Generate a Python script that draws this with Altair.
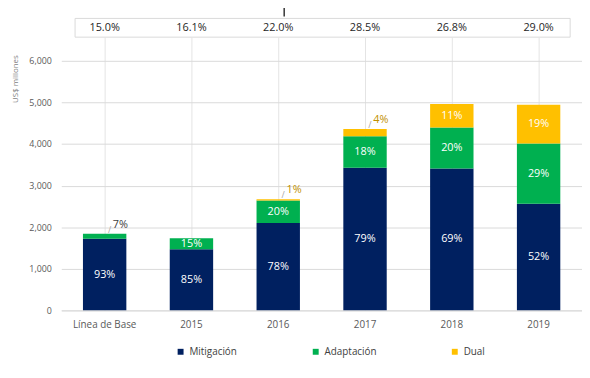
import altair as alt
import pandas as pd

cats = ["Línea de Base", "2015", "2016", "2017", "2018", "2019"]
share = ["15.0%", "16.1%", "22.0%", "28.5%", "26.8%", "29.0%"]
series = ["Mitigación", "Adaptación", "Dual"]
mit = [1720, 1470, 2100, 3430, 3410, 2565]
ada = [120, 265, 545, 760, 990, 1450]
dual = [0, 0, 27, 170, 560, 930]
mit_lbl = ["93%", "85%", "78%", "79%", "69%", "52%"]
ada_lbl = ["7%", "15%", "20%", "18%", "20%", "29%"]
dual_lbl = ["", "", "1%", "4%", "11%", "19%"]
colors = ["#002060", "#00b050", "#ffc000"]
ext_colors = ["#404040", "#404040", "#bf9000"]

rows = []
for i, c in enumerate(cats):
    base = 0
    for j, (vals, lbls) in enumerate(zip([mit, ada, dual], [mit_lbl, ada_lbl, dual_lbl])):
        v = vals[i]
        rows.append(dict(cat=c, serie=series[j], order=j, value=v, lo=base, hi=base + v,
                         mid=base + v / 2, label=lbls[i], inside=v > 250, ext_color=ext_colors[j]))
        base += v
df = pd.DataFrame(rows)
df_in = df[df["inside"] & (df["label"] != "")]
df_ext = df[(~df["inside"]) & (df["label"] != "")]
df_top = pd.DataFrame({"cat": cats, "share": share})

FONT = "Open Sans"
xenc = alt.X("cat:N", sort=cats, title=None,
             scale=alt.Scale(paddingInner=0.5, paddingOuter=0.25),
             axis=alt.Axis(labelFont=FONT, labelFontSize=10, labelColor="#595959", labelAngle=0,
                           labelAlign="center", labelFlush=False, bandPosition=0.5,
                           ticks=False, domainColor="#d9d9d9", labelPadding=14,
                           grid=True, gridColor="#e4e4e4"))
yscale = alt.Scale(domain=[0, 6570], nice=False)

box = alt.Chart(pd.DataFrame({"a": [0]})).mark_rect(fill="white", stroke="#d9d9d9", strokeWidth=1).encode(
    x=alt.value(14), x2=alt.value(516), y=alt.value(-19), y2=alt.value(0))
artifact = alt.Chart(pd.DataFrame({"a": [0]})).mark_rule(color="black", strokeWidth=1.2).encode(
    x=alt.value(226), y=alt.value(-35), y2=alt.value(-21))
top = alt.Chart(df_top).mark_text(font=FONT, fontSize=11, color="#262626", baseline="middle").encode(
    x=alt.X("cat:N", sort=cats), y=alt.value(-9), text="share:N")

bars = alt.Chart(df).mark_bar().encode(
    x=xenc,
    y=alt.Y("lo:Q", scale=yscale, title="US$ millones",
            axis=alt.Axis(values=[0, 1000, 2000, 3000, 4000, 5000, 6000], format=",.0f",
                          labelFont=FONT, labelFontSize=9, labelColor="#595959", domain=False,
                          ticks=False, labelPadding=10, gridColor="#d9d9d9",
                          titleFont=FONT, titleFontSize=8, titleFontWeight="normal", titleColor="#7f7f7f",
                          titleAngle=-90, titleX=-46, titleY=42, titleAlign="center",
                          titleBaseline="middle")),
    y2="hi:Q",
    color=alt.Color("serie:N", sort=series, scale=alt.Scale(domain=series, range=colors),
                    legend=alt.Legend(title=None, orient="none", direction="horizontal",
                                      legendX=116, legendY=314, symbolType="square", symbolSize=36,
                                      labelFont=FONT, labelFontSize=10, labelColor="#404040",
                                      columnPadding=74, symbolOffset=0, labelOffset=4)),
    order=alt.Order("order:Q"),
)

inside = alt.Chart(df_in).mark_text(font=FONT, fontSize=11, color="white", baseline="middle").encode(
    x=alt.X("cat:N", sort=cats), y=alt.Y("mid:Q", scale=yscale), text="label:N")

ext = alt.Chart(df_ext).mark_text(font=FONT, fontSize=11, baseline="middle", dx=16, dy=-9).encode(
    x=alt.X("cat:N", sort=cats), y=alt.Y("hi:Q", scale=yscale), text="label:N",
    color=alt.Color("ext_color:N", scale=None))
leader = alt.Chart(df_ext).mark_text(font=FONT, fontSize=9, baseline="middle", dx=5, dy=-4,
                                     color="#a6a6a6", text="/").encode(
    x=alt.X("cat:N", sort=cats), y=alt.Y("hi:Q", scale=yscale))

chart = alt.layer(box, artifact, top, bars, inside, ext, leader).properties(
    width=528, height=277,
    autosize=alt.AutoSizeParams(type="none"),
    padding={"left": 54, "top": 27, "right": 0, "bottom": 66},
    background="white",
).configure_view(stroke=None)

chart.save("out.html", embed_options={"renderer": "svg", "actions": False})
